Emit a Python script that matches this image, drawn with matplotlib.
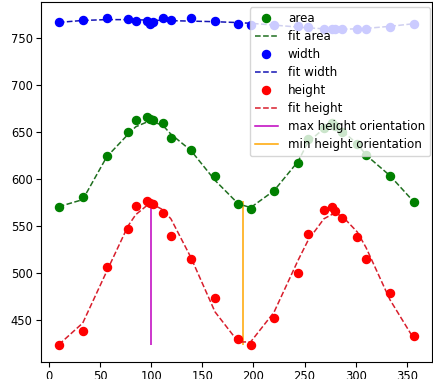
import numpy as np
import matplotlib
matplotlib.use("Agg")
import matplotlib.pyplot as plt
from matplotlib.lines import Line2D

# orientation angles (degrees) at which each measurement was taken
angle = [9.2, 32.7, 56.2, 77.1, 84.6, 95.4, 98.6, 101.9, 111.6, 119.2, 138.5,
         162.3, 185.1, 197.2, 220.1, 243.6, 253.6, 269.0, 277.2, 279.8, 286.4,
         301.6, 310.2, 333.7, 357.2]

area = [571.1, 581.0, 624.6, 650.1, 663.6, 666.8, 664.3, 663.0, 660.1, 644.2,
        631.4, 603.3, 574.0, 568.7, 587.8, 617.6, 643.1, 655.0, 660.0, 657.0,
        650.9, 638.0, 626.1, 604.1, 575.7]

# fitted area model evaluated at each angle
fit_area = [571.0, 578.5, 624.0, 648.0, 656.0, 661.0, 661.5, 661.5, 657.0,
            648.0, 631.0, 599.0, 574.0, 570.0, 588.0, 619.0, 640.0, 654.0,
            657.0, 657.0, 652.0, 638.0, 626.0, 604.0, 576.0]

width = [767.4, 769.9, 771.7, 770.9, 769.1, 768.5, 765.5, 767.5, 771.7, 769.9,
         771.7, 768.1, 765.6, 764.6, 763.8, 763.2, 762.1, 760.3, 760.3, 760.3,
         759.8, 759.6, 760.3, 762.1, 765.6]

height = [423.8, 438.3, 506.6, 547.5, 572.2, 577.5, 575.1, 573.3, 564.0, 539.6,
          515.6, 474.1, 430.6, 423.4, 452.4, 500.3, 542.1, 567.6, 571.1, 566.9,
          558.7, 538.5, 515.6, 479.4, 433.7]

max_height_orientation = 99.6
min_height_orientation = 189.4


def harmonic_fit(theta_deg, values, order=2):
    """Least-squares fit with angular harmonics up to the given order."""
    t = np.radians(np.asarray(theta_deg))
    cols = [np.ones_like(t)]
    for k in range(1, order + 1):
        cols += [np.cos(k * t), np.sin(k * t)]
    design = np.column_stack(cols)
    coef, *_ = np.linalg.lstsq(design, np.asarray(values), rcond=None)
    return design @ coef


fit_width = harmonic_fit(angle, width)
fit_height = harmonic_fit(angle, height)

plt.rcParams["font.size"] = 8.3

fig = plt.figure(figsize=(4.33, 3.79), dpi=100)
ax = fig.add_axes([0.0947, 0.0456, 0.9023, 0.9499])

ms = 5.8
lw = 1.1
c_fit_area = "#1f6f1f"
c_fit_width = "#1414b4"
c_fit_height = "#d81e2c"

ax.vlines(max_height_orientation, min(height), max(height), color="m",
          lw=lw, zorder=1)
ax.vlines(min_height_orientation, min(height), max(height), color="orange",
          lw=lw, zorder=1)

ax.plot(angle, area, "o", color="green", ms=ms, zorder=3)
ax.plot(angle, fit_area, "--", color=c_fit_area, lw=lw, zorder=2)
ax.plot(angle, width, "o", color="blue", ms=ms, zorder=3)
ax.plot(angle, fit_width, "--", color=c_fit_width, lw=lw, zorder=2)
ax.plot(angle, height, "o", color="red", ms=ms, zorder=3)
ax.plot(angle, fit_height, "--", color=c_fit_height, lw=lw, zorder=2)

handles = [
    Line2D([], [], ls="", marker="o", color="green", ms=ms),
    Line2D([], [], ls="--", color=c_fit_area, lw=lw),
    Line2D([], [], ls="", marker="o", color="blue", ms=ms),
    Line2D([], [], ls="--", color=c_fit_width, lw=lw),
    Line2D([], [], ls="", marker="o", color="red", ms=ms),
    Line2D([], [], ls="--", color=c_fit_height, lw=lw),
    Line2D([], [], ls="-", color="m", lw=lw),
    Line2D([], [], ls="-", color="orange", lw=lw),
]
labels = ["area", "fit area", "width", "fit width", "height", "fit height",
          "max height orientation", "min height orientation"]
ax.legend(handles, labels, loc="upper right", bbox_to_anchor=(0.9957, 0.9844),
          borderaxespad=0, fontsize=8.6, labelspacing=0.42)

ax.set_xticks(np.arange(0, 351, 50))
ax.set_yticks(np.arange(450, 751, 50))
ax.tick_params(pad=2.5)

fig.savefig("out.png", dpi=100)
